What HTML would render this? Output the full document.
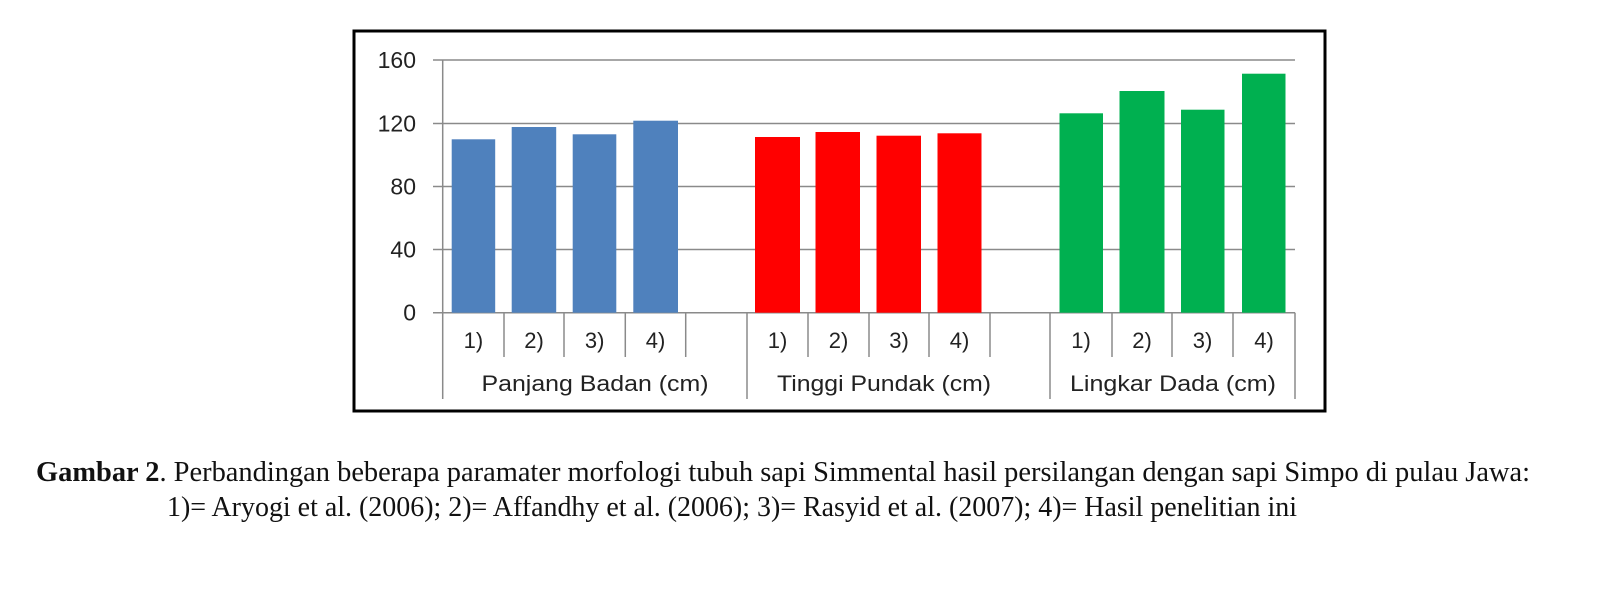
<!DOCTYPE html>
<html><head><meta charset="utf-8"><style>
html,body{margin:0;padding:0;background:#fff;}
svg{display:block;}
</style></head><body>
<svg width="1600" height="592" viewBox="0 0 1600 592" xmlns="http://www.w3.org/2000/svg">
<rect x="0" y="0" width="1600" height="592" fill="#fff"/>
<rect x="354" y="31" width="971" height="380" fill="#fff" stroke="#000" stroke-width="3"/>
<g stroke="#8a8a8a" stroke-width="1.5">
<line x1="433" y1="60" x2="1295" y2="60"/>
<line x1="433" y1="123.5" x2="1295" y2="123.5"/>
<line x1="433" y1="186.5" x2="1295" y2="186.5"/>
<line x1="433" y1="249.5" x2="1295" y2="249.5"/>
<line x1="433" y1="312.7" x2="1295" y2="312.7"/>
<line x1="442.7" y1="60" x2="442.7" y2="399"/>
<line x1="504" y1="312.7" x2="504" y2="357"/>
<line x1="564" y1="312.7" x2="564" y2="357"/>
<line x1="625.3" y1="312.7" x2="625.3" y2="357"/>
<line x1="685.7" y1="312.7" x2="685.7" y2="357"/>
<line x1="747" y1="312.7" x2="747" y2="399"/>
<line x1="808" y1="312.7" x2="808" y2="357"/>
<line x1="869" y1="312.7" x2="869" y2="357"/>
<line x1="929" y1="312.7" x2="929" y2="357"/>
<line x1="990" y1="312.7" x2="990" y2="357"/>
<line x1="1050" y1="312.7" x2="1050" y2="399"/>
<line x1="1112" y1="312.7" x2="1112" y2="357"/>
<line x1="1172" y1="312.7" x2="1172" y2="357"/>
<line x1="1233" y1="312.7" x2="1233" y2="357"/>
<line x1="1295" y1="312.7" x2="1295" y2="399"/>
</g>
<g fill="#4f81bd">
<rect x="451.7" y="139.3" width="43.5" height="173.4"/>
<rect x="511.7" y="127" width="44.5" height="185.7"/>
<rect x="572.7" y="134.3" width="43.6" height="178.4"/>
<rect x="633.3" y="120.7" width="44.7" height="192"/>
</g>
<g fill="#ff0000">
<rect x="755" y="137" width="45" height="175.7"/>
<rect x="815.5" y="132" width="44.5" height="180.7"/>
<rect x="876.5" y="135.7" width="44.5" height="177"/>
<rect x="937.5" y="133.3" width="44" height="179.4"/>
</g>
<g fill="#00b050">
<rect x="1059.5" y="113.3" width="43.5" height="199.4"/>
<rect x="1119.5" y="91" width="45" height="221.7"/>
<rect x="1181" y="109.7" width="43.5" height="203"/>
<rect x="1242" y="73.7" width="43.5" height="239"/>
</g>
<g font-family="Liberation Sans, sans-serif" font-size="23" fill="#222" text-anchor="end">
<text x="416" y="68">160</text>
<text x="416" y="131.5">120</text>
<text x="416" y="194.5">80</text>
<text x="416" y="257.5">40</text>
<text x="416" y="320.7">0</text>
</g>
<g font-family="Liberation Sans, sans-serif" font-size="22" fill="#222" text-anchor="middle">
<text x="473.4" y="348">1)</text><text x="534" y="348">2)</text><text x="594.7" y="348">3)</text><text x="655.5" y="348">4)</text>
<text x="777.5" y="348">1)</text><text x="838.5" y="348">2)</text><text x="899" y="348">3)</text><text x="959.5" y="348">4)</text>
<text x="1081" y="348">1)</text><text x="1142" y="348">2)</text><text x="1202.5" y="348">3)</text><text x="1264" y="348">4)</text>
<text x="595" y="391" textLength="227" lengthAdjust="spacingAndGlyphs">Panjang Badan (cm)</text>
<text x="884" y="391" textLength="214" lengthAdjust="spacingAndGlyphs">Tinggi Pundak (cm)</text>
<text x="1173" y="391" textLength="206" lengthAdjust="spacingAndGlyphs">Lingkar Dada (cm)</text>
</g>
<g font-family="Liberation Serif, serif" font-size="28" fill="#111">
<text x="36" y="481" textLength="1494" lengthAdjust="spacingAndGlyphs"><tspan font-weight="bold">Gambar 2</tspan>. Perbandingan beberapa paramater morfologi tubuh sapi Simmental hasil persilangan dengan sapi Simpo di pulau Jawa:</text>
<text x="167" y="516" textLength="1130" lengthAdjust="spacingAndGlyphs">1)= Aryogi et al. (2006); 2)= Affandhy et al. (2006); 3)= Rasyid et al. (2007); 4)= Hasil penelitian ini</text>
</g>
</svg>
</body></html>
